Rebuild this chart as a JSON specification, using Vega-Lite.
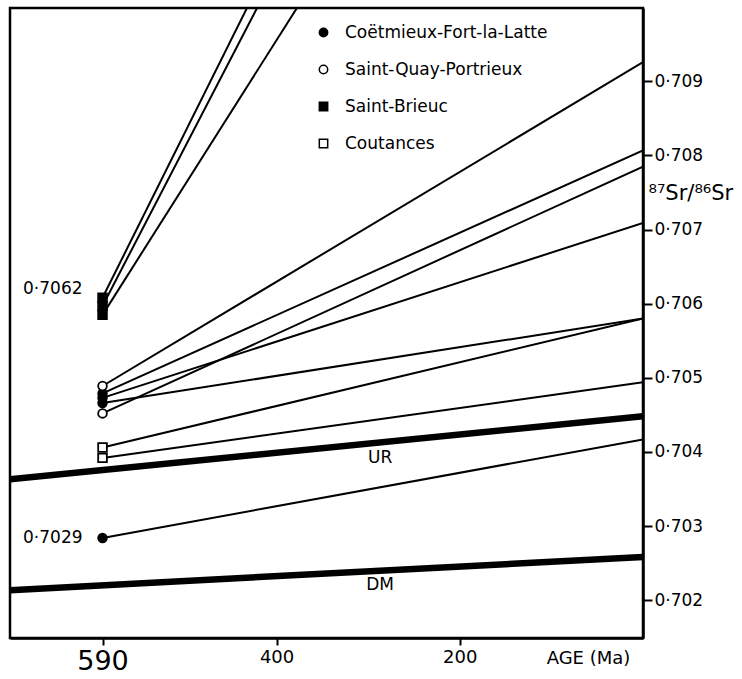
{
  "$schema": "https://vega.github.io/schema/vega-lite/v6.json",
  "autosize": "none",
  "width": 633,
  "height": 630,
  "padding": {"left": 10, "top": 8, "right": 99, "bottom": 41},
  "background": "white",
  "config": {
    "font": "DejaVu Sans",
    "view": {"stroke": "black", "strokeWidth": 2.5},
    "axis": {"grid": false, "domainColor": "black", "domainWidth": 2.5, "tickColor": "black", "tickWidth": 2, "labelColor": "black", "titleColor": "black", "titleFontWeight": "normal"}
  },
  "datasets": {
    "lines": [
      {"id": "L1", "age": 590, "sr": 0.70489}, {"id": "L1", "age": 0, "sr": 0.70926},
      {"id": "L2", "age": 590, "sr": 0.70479}, {"id": "L2", "age": 0, "sr": 0.70807},
      {"id": "L3", "age": 590, "sr": 0.70473}, {"id": "L3", "age": 0, "sr": 0.70709},
      {"id": "L4", "age": 590, "sr": 0.70466}, {"id": "L4", "age": 0, "sr": 0.70580},
      {"id": "L5", "age": 590, "sr": 0.70452}, {"id": "L5", "age": 0, "sr": 0.70785},
      {"id": "L6", "age": 590, "sr": 0.70406}, {"id": "L6", "age": 0, "sr": 0.70580},
      {"id": "L7", "age": 590, "sr": 0.70392}, {"id": "L7", "age": 0, "sr": 0.70494},
      {"id": "L8", "age": 590, "sr": 0.70284}, {"id": "L8", "age": 0, "sr": 0.70417},
      {"id": "L9", "age": 590, "sr": 0.70608}, {"id": "L9", "age": 0, "sr": 0.72071},
      {"id": "L10", "age": 590, "sr": 0.70597}, {"id": "L10", "age": 0, "sr": 0.72003},
      {"id": "L11", "age": 590, "sr": 0.70585}, {"id": "L11", "age": 0, "sr": 0.71736}
    ],
    "ref": [
      {"id": "UR", "age": 691, "sr": 0.703632}, {"id": "UR", "age": 0, "sr": 0.704482},
      {"id": "DM", "age": 691, "sr": 0.702135}, {"id": "DM", "age": 0, "sr": 0.702584}
    ],
    "points": [
      {"site": "Coëtmieux-Fort-la-Latte", "age": 590, "sr": 0.70479},
      {"site": "Coëtmieux-Fort-la-Latte", "age": 590, "sr": 0.70473},
      {"site": "Coëtmieux-Fort-la-Latte", "age": 590, "sr": 0.70466},
      {"site": "Coëtmieux-Fort-la-Latte", "age": 590, "sr": 0.70284},
      {"site": "Saint-Quay-Portrieux", "age": 590, "sr": 0.70489},
      {"site": "Saint-Quay-Portrieux", "age": 590, "sr": 0.70452},
      {"site": "Saint-Brieuc", "age": 590, "sr": 0.70608},
      {"site": "Saint-Brieuc", "age": 590, "sr": 0.70597},
      {"site": "Saint-Brieuc", "age": 590, "sr": 0.70585},
      {"site": "Coutances", "age": 590, "sr": 0.70406},
      {"site": "Coutances", "age": 590, "sr": 0.70392}
    ],
    "notes": [
      {"text": "0·7062", "age": 590, "sr": 0.7062},
      {"text": "0·7029", "age": 590, "sr": 0.70284}
    ],
    "reflabels": [
      {"text": "UR", "age": 287, "sr": 0.703915},
      {"text": "DM", "age": 287, "sr": 0.70221}
    ]
  },
  "encoding": {
    "x": {"field": "age", "type": "quantitative",
      "scale": {"domain": [0, 691], "reverse": true, "nice": false, "zero": false},
      "axis": {"orient": "bottom", "values": [590, 400, 200], "tickSize": 7, "labelPadding": 3,
        "labelFontSize": {"condition": {"test": "datum.value == 590", "value": 27}, "value": 18},
        "title": "AGE (Ma)", "titleFontSize": 18, "titleX": 578, "titleY": 25, "titleAlign": "center", "titleBaseline": "alphabetic", "labelFlush": false}},
    "y": {"field": "sr", "type": "quantitative",
      "scale": {"domain": [0.70149, 0.70999], "nice": false, "zero": false},
      "axis": {"orient": "right", "values": [0.702, 0.703, 0.704, 0.705, 0.706, 0.707, 0.708, 0.709],
        "labelExpr": "replace(format(datum.value, '.3f'), '.', '·')", "labelFontSize": 17, "tickSize": 9, "labelPadding": 2,
        "title": "⁸⁷Sr/⁸⁶Sr", "titleFontSize": 21, "titleAngle": 0, "titleAlign": "left", "titleBaseline": "alphabetic", "titleX": 5, "titleY": 191}}
  },
  "layer": [
    {
      "data": {"name": "lines"},
      "mark": {"type": "line", "color": "black", "strokeWidth": 2, "clip": true},
      "encoding": {"detail": {"field": "id"}}
    },
    {
      "data": {"name": "ref"},
      "mark": {"type": "line", "color": "black", "strokeWidth": 6.5, "clip": true},
      "encoding": {"detail": {"field": "id"}}
    },
    {
      "data": {"name": "points"},
      "mark": {"type": "point", "filled": true, "stroke": "black", "strokeWidth": 1.8, "size": 75, "opacity": 1},
      "encoding": {
        "shape": {"field": "site", "type": "nominal",
          "scale": {"domain": ["Coëtmieux-Fort-la-Latte", "Saint-Quay-Portrieux", "Saint-Brieuc", "Coutances"], "range": ["circle", "circle", "square", "square"]},
          "legend": {"title": null, "orient": "none", "legendX": 305, "legendY": 16, "labelFontSize": 17, "labelLimit": 0, "labelColor": "black", "symbolSize": 70, "rowPadding": 19, "labelOffset": 13, "padding": 0,
            "encode": {"symbols": {"update": {"stroke": {"value": "black"}, "strokeWidth": {"value": 1.8}, "opacity": {"value": 1}}}}}},
        "fill": {"field": "site", "type": "nominal",
          "scale": {"domain": ["Coëtmieux-Fort-la-Latte", "Saint-Quay-Portrieux", "Saint-Brieuc", "Coutances"], "range": ["black", "white", "black", "white"]},
          "legend": {"title": null, "orient": "none", "legendX": 305, "legendY": 16, "labelFontSize": 17, "labelLimit": 0, "labelColor": "black", "symbolSize": 70, "rowPadding": 19, "labelOffset": 13, "padding": 0,
            "encode": {"symbols": {"update": {"stroke": {"value": "black"}, "strokeWidth": {"value": 1.8}, "opacity": {"value": 1}}}}}}
      }
    },
    {
      "data": {"name": "notes"},
      "mark": {"type": "text", "align": "right", "baseline": "middle", "dx": -20, "fontSize": 17, "color": "black"},
      "encoding": {"text": {"field": "text"}}
    },
    {
      "data": {"name": "reflabels"},
      "mark": {"type": "text", "align": "center", "baseline": "middle", "fontSize": 17, "color": "black"},
      "encoding": {"text": {"field": "text"}}
    }
  ]
}
